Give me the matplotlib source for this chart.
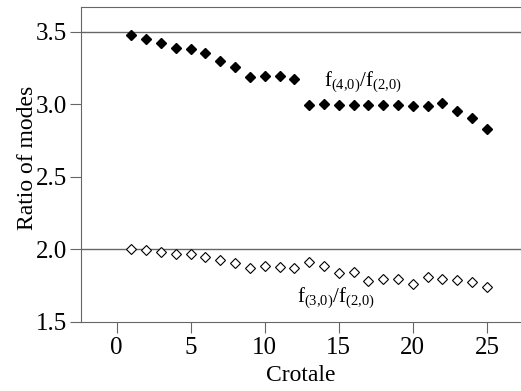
import matplotlib.pyplot as plt

plt.rcParams['font.family'] = ['Liberation Serif', 'DejaVu Serif']
plt.rcParams['mathtext.fontset'] = 'custom'
plt.rcParams['mathtext.rm'] = 'Liberation Serif'
plt.rcParams['mathtext.it'] = 'Liberation Serif'

crotale = list(range(1, 26))
ratio_40_20 = [3.477, 3.447, 3.42, 3.39, 3.378, 3.355, 3.295, 3.26, 3.19, 3.198,
               3.196, 3.173, 2.996, 3.003, 2.998, 2.996, 2.996, 2.998, 2.998, 2.989,
               2.989, 3.012, 2.956, 2.903, 2.827]
ratio_30_20 = [2.004, 1.995, 1.981, 1.97, 1.965, 1.949, 1.924, 1.905, 1.869, 1.883,
               1.878, 1.871, 1.91, 1.885, 1.839, 1.841, 1.783, 1.793, 1.797, 1.76,
               1.807, 1.795, 1.788, 1.776, 1.74]

fig = plt.figure(figsize=(5.21, 3.91), dpi=100)
ax = fig.add_axes([0.1555, 0.1765, 0.8445, 0.8055])

gray = '#666666'
ax.axhline(3.5, color=gray, lw=1)
ax.axhline(2.0, color=gray, lw=1)

ax.plot(crotale, ratio_40_20, 'D', color='black', ms=5.5, ls='none')
ax.plot(crotale, ratio_30_20, 'D', mfc='white', mec='black', mew=0.8, ms=5.5, ls='none')

ax.text(16.6, 3.157, r'f$_{\mathrm{(4{,}0)}}$/f$_{\mathrm{(2{,}0)}}$', fontsize=15,
        ha='center', va='center')
ax.text(14.8, 1.665, r'f$_{\mathrm{(3{,}0)}}$/f$_{\mathrm{(2{,}0)}}$', fontsize=15,
        ha='center', va='center')

ax.set_xlim(-2.4, 27.3)
ax.set_ylim(1.5, 3.67)
ax.set_xticks([0, 5, 10, 15, 20, 25])
ax.set_yticks([1.5, 2.0, 2.5, 3.0, 3.5])
ax.set_yticklabels(['1.5', '2.0', '2.5', '3.0', '3.5'])

for side in ['left', 'top', 'bottom']:
    ax.spines[side].set_color(gray)
ax.spines['right'].set_visible(False)
ax.tick_params(direction='out', length=8, color=gray, labelsize=18)
ax.tick_params(axis='x', pad=3)
ax.tick_params(axis='y', pad=2)

ax.set_xlabel('Crotale', fontsize=17)
ax.set_ylabel('Ratio of modes', fontsize=17)
ax.xaxis.set_label_coords(0.5, -0.135)
ax.yaxis.set_label_coords(-0.097, 0.52)

fig.savefig('out.png', dpi=100)
